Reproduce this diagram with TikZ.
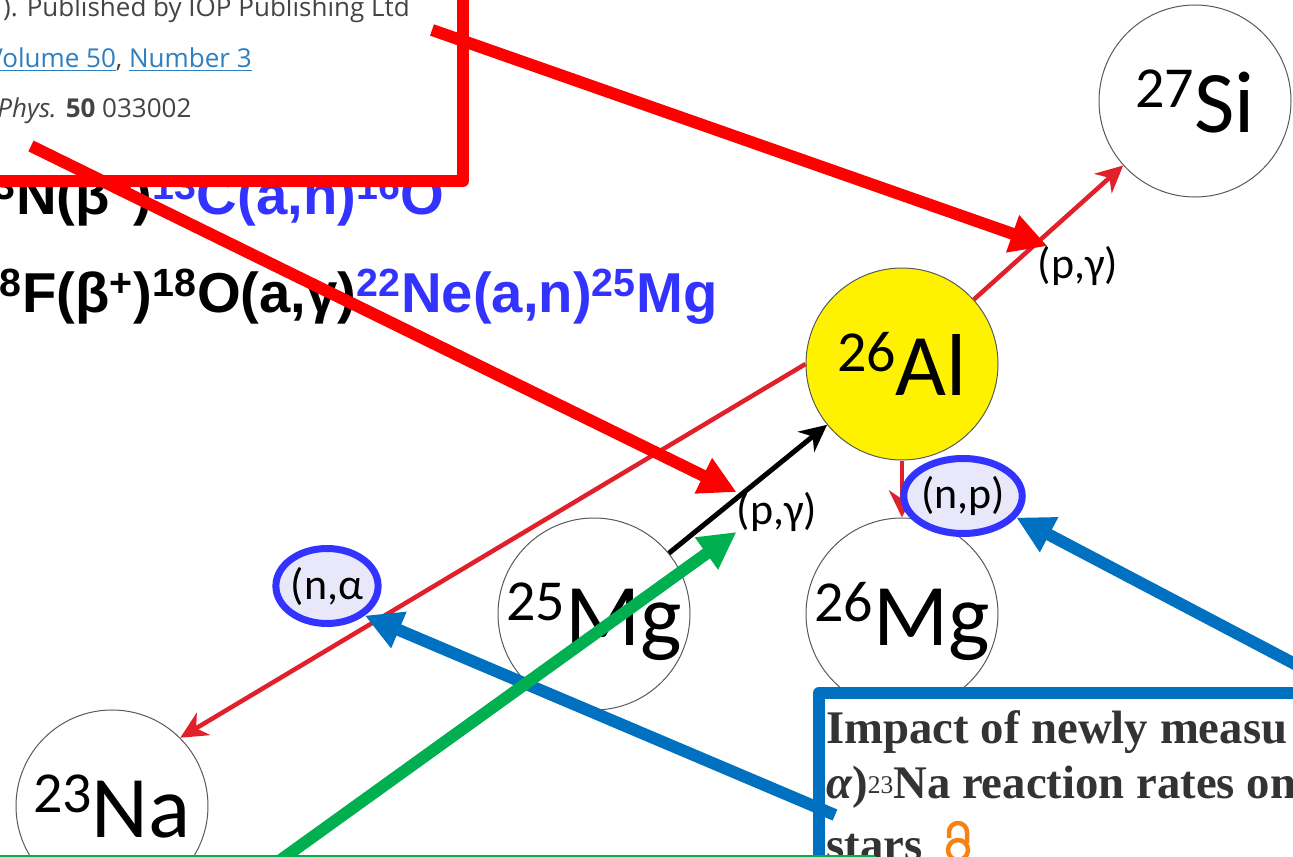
\documentclass[tikz,border=0pt]{standalone}
\usepackage{fontspec}
\setmainfont{Carlito}
\newfontfamily\arialfont{Liberation Sans}
\newfontfamily\iopfont{Open Sans}
\newfontfamily\titlefont{Liberation Serif}
\usetikzlibrary{arrows.meta,shapes.geometric}

\definecolor{alyellow}{HTML}{FFF200}
\definecolor{reactred}{HTML}{E0202A}
\definecolor{annred}{HTML}{FF0000}
\definecolor{annblue}{HTML}{0070C0}
\definecolor{anngreen}{HTML}{00B050}
\definecolor{markblue}{HTML}{3333FF}
\definecolor{markfill}{HTML}{E8E8FA}
\definecolor{formblue}{HTML}{3333FF}
\definecolor{linkblue}{HTML}{2D7FC0}
\definecolor{iopgray}{HTML}{444444}
\definecolor{titlegray}{HTML}{333333}
\definecolor{lockorange}{HTML}{F68212}

% nucleus label: mass number and element
\newcommand{\iso}[2]{{\fontsize{33}{33}\selectfont\raisebox{14pt}{#1}}{\fontsize{50}{50}\selectfont #2}}

\tikzset{
  nuc/.style={circle, draw=black!65, line width=0.2mm, minimum size=38.4mm, inner sep=0pt, fill=white, text depth=0pt},
  react/.style={draw=reactred, line width=0.9mm, -{Stealth[length=5.4mm,width=5.2mm,inset=1.7mm]}},
  capture/.style={react, draw=black, line width=1mm},
  chan/.style={font=\fontsize{25}{25}\selectfont, inner sep=0pt},
  marked/.style={ellipse, draw=markblue, fill=markfill, line width=1.4mm, minimum width=18.6mm, minimum height=15mm, inner sep=0pt, font=\fontsize{25}{25}\selectfont},
  formula/.style={font=\arialfont\bfseries\fontsize{32}{32}\selectfont, inner sep=0pt},
  iop/.style={font=\iopfont\fontsize{14.8}{18}\selectfont, text=iopgray, inner sep=0pt},
  headline/.style={font=\titlefont\bfseries\fontsize{26.6}{31}\selectfont, text=titlegray, inner sep=0pt, anchor=base west},
  frame/.style={line width=2.4mm, line join=round, fill=white},
  callout/.style={line width=2.4mm, -{Triangle[length=7.4mm,width=7.4mm]}}
}

\begin{document}
\begin{tikzpicture}[x=0.2mm, y=-0.2mm]
\clip (0,0) rectangle (1293,857);

% reaction chains, partly under the red frame
\node[formula, anchor=base east] (chainA) at (445,215) {\textsuperscript{13}N(β\textsuperscript{+})\textcolor{formblue}{\textsuperscript{13}C(a,n)\textsuperscript{16}O}};
\node[formula, anchor=base east] (chainB) at (718,312) {\textsuperscript{18}F(β\textsuperscript{+})\textsuperscript{18}O(a,γ)\textcolor{formblue}{\textsuperscript{22}Ne(a,n)\textsuperscript{25}Mg}};

% red frame with citation
\draw[frame, draw=annred] (-40,-40) rectangle (463,181);
\node[iop, anchor=base east] (pub) at (410,17) {). Published by IOP Publishing Ltd};
\node[iop, anchor=base east] (vol) at (252,68) {\textcolor{linkblue}{\underline{Volume 50}}, \textcolor{linkblue}{\underline{Number 3}}};
\node[iop, anchor=base west] (jnl) at (-3,118) {\textit{Phys.} \textbf{50} 033002};

% nuclei
\node[nuc] (si) at (1195,101) {\iso{27}{Si}};
\node[nuc, fill=alyellow] (al) at (902,364) {\iso{26}{Al}};
\node[nuc] (mg25) at (594,614) {\iso{25}{Mg}};
\node[nuc] (mg26) at (902,614) {\iso{26}{Mg}};
\node[nuc] (na) at (112,806) {\iso{23}{Na}};

\draw[react] (al) -- (si);
\draw[react] (al.west) -- (na.45);
\draw[react] (al) -- (mg26);
\draw[capture] (mg25) -- (al);

\node[chan] (pgSi) at (1078,266) {(p,γ)};
\node[chan] (pgAl) at (777,512) {(p,γ)};
\node[marked] (np) at (963,496) {(n,p)};
\node[marked] (nalpha) at (327,586) {(n,α};

% blue frame with paper title
\draw[frame, draw=annblue] (819,693) rectangle (1340,900);
\node[headline] (titleA) at (826,743) {Impact of newly measu};
\node[headline] (titleB) at (826,798) {{\itshape α})\raisebox{2.8pt}{\fontsize{14.5}{15}\selectfont\mdseries 23}Na reaction rates on};
\node[headline] (titleC) at (826,860) {stars};
% open access lock
\draw[lockorange, line width=0.9mm] (949,838) -- (949,832) arc[start angle=180, end angle=0, radius=1.8mm] -- (967,843);
\draw[lockorange, line width=0.9mm] (958,850) circle[radius=2mm];

% green frame
\draw[line width=2.4mm, line join=round, draw=anngreen] (-40,861) rectangle (872,950);

% callout arrows
\coordinate (tailA) at (432,30);
\coordinate (tailB) at (31,146);
\coordinate (tailNP) at (1350,693);
\coordinate (tailNA) at (835,815);
\coordinate (tailG) at (250,882);
\draw[callout, annred] (tailA) -- ([xshift=2mm]pgSi.north west);
\draw[callout, annred] (tailB) -- (pgAl.north west);
\draw[callout, annblue] (tailNP) -- (np.-22);
\draw[callout, annblue] (tailNA) -- (nalpha.-38);
\draw[callout, anngreen] (tailG) -- (pgAl.south west);
\end{tikzpicture}
\end{document}
